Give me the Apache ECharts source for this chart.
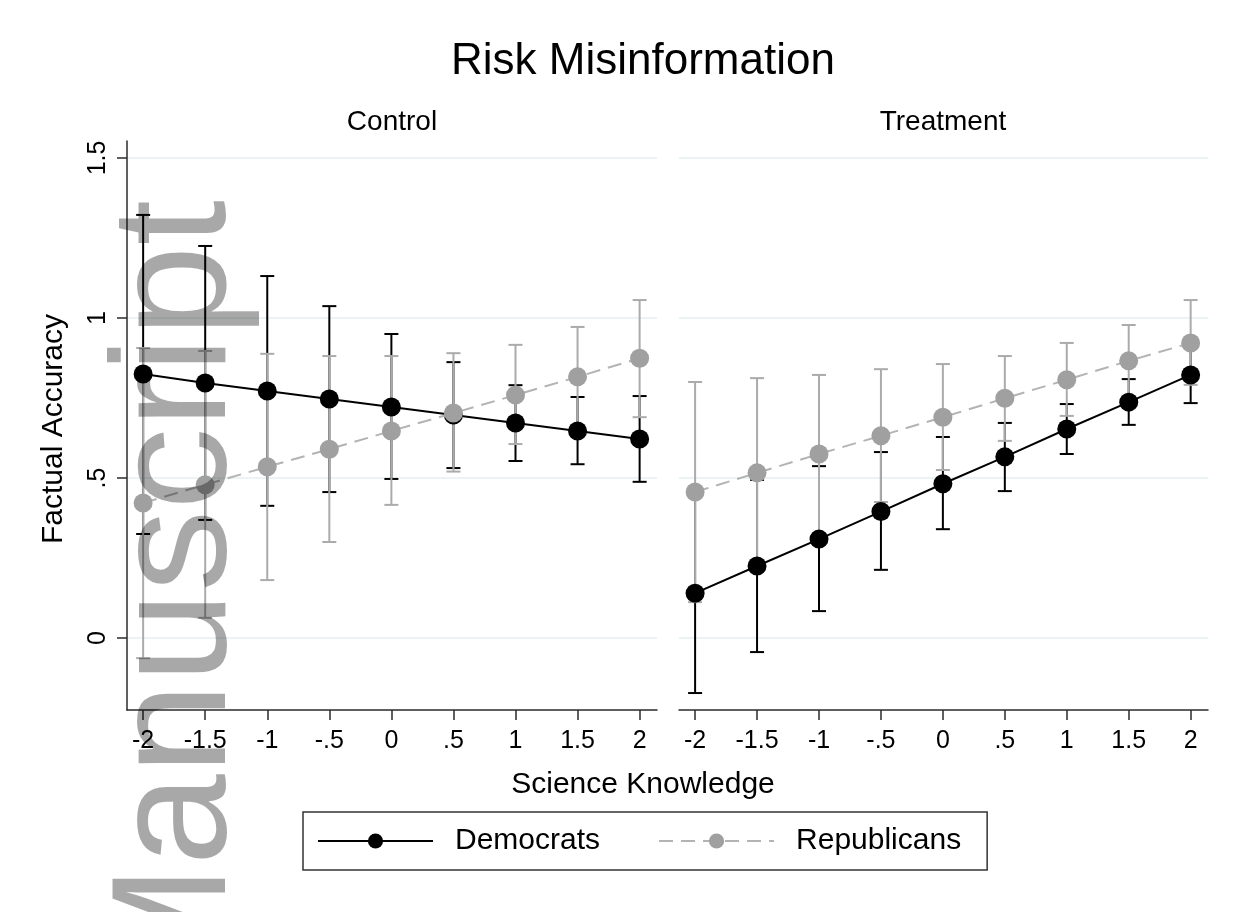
<!DOCTYPE html>
<html>
<head>
<meta charset="utf-8">
<title>Risk Misinformation</title>
<script src="https://cdn.jsdelivr.net/npm/echarts@6/dist/echarts.min.js"></script>
<style>
  html, body { margin: 0; padding: 0; background: #fff; }
  #chart { width: 1247px; height: 912px; }
</style>
</head>
<body>
<div id="chart"></div>
<script>
// Science knowledge levels (x axis) and tick marks
const knowledge = [-2, -1.5, -1, -0.5, 0, 0.5, 1, 1.5, 2];
const xTicks = [-2, -1.5, -1, -0.5, 0, 0.5, 1, 1.5, 2];
const yTicks = [0, 0.5, 1, 1.5];

// Control panel: predicted factual accuracy with 95% CIs
const ctrlDemEst = [0.825, 0.797, 0.772, 0.747, 0.722, 0.697, 0.672, 0.647, 0.622];
const ctrlDemLo  = [0.325, 0.369, 0.413, 0.456, 0.497, 0.531, 0.553, 0.543, 0.488];
const ctrlDemHi  = [1.322, 1.225, 1.131, 1.037, 0.950, 0.862, 0.790, 0.753, 0.756];
const ctrlRepEst = [0.422, 0.479, 0.535, 0.590, 0.647, 0.703, 0.759, 0.816, 0.874];
const ctrlRepLo  = [-0.063, 0.063, 0.181, 0.300, 0.416, 0.520, 0.606, 0.660, 0.690];
const ctrlRepHi  = [0.906, 0.897, 0.888, 0.881, 0.881, 0.890, 0.916, 0.972, 1.056];

// Treatment panel
const trtDemEst = [0.140, 0.225, 0.309, 0.395, 0.482, 0.566, 0.653, 0.737, 0.822];
const trtDemLo  = [-0.172, -0.044, 0.084, 0.213, 0.340, 0.459, 0.575, 0.666, 0.734];
const trtDemHi  = [0.452, 0.494, 0.537, 0.581, 0.628, 0.672, 0.731, 0.809, 0.910];
const trtRepEst = [0.456, 0.516, 0.575, 0.632, 0.690, 0.749, 0.807, 0.866, 0.922];
const trtRepLo  = [0.112, 0.220, 0.328, 0.425, 0.525, 0.616, 0.694, 0.754, 0.791];
const trtRepHi  = [0.800, 0.812, 0.822, 0.840, 0.856, 0.881, 0.922, 0.978, 1.056];

const FONT = "'Liberation Sans', Arial, sans-serif";
const DEM = '#000000';
const REP = '#a0a0a0';
const REP_CI = '#ababab';
const AXIS = '#2b2b2b';
const GRID = '#e6eff1';

// Stata-style labels: ".5", "-.5"
const fmt = v => (v === 0 ? '0' : String(v).replace(/^(-?)0\./, '$1.'));

const pairs = (xs, ys) => xs.map((x, i) => [x, ys[i]]);
const ciRows = (xs, lo, hi) => xs.map((x, i) => [x, lo[i], hi[i]]);

function ciRenderer(color) {
  return function (params, api) {
    const x = api.value(0);
    const lo = api.coord([x, api.value(1)]);
    const hi = api.coord([x, api.value(2)]);
    const half = 7;
    const style = { stroke: color, lineWidth: 2 };
    return {
      type: 'group',
      children: [
        { type: 'line', shape: { x1: lo[0], y1: lo[1], x2: hi[0], y2: hi[1] }, style },
        { type: 'line', shape: { x1: hi[0] - half, y1: hi[1], x2: hi[0] + half, y2: hi[1] }, style },
        { type: 'line', shape: { x1: lo[0] - half, y1: lo[1], x2: lo[0] + half, y2: lo[1] }, style }
      ]
    };
  };
}

function xAxisFor(gridIndex) {
  return {
    type: 'value', gridIndex, min: -2.13, max: 2.14,
    axisLine: { show: true, onZero: false, lineStyle: { color: AXIS, width: 1.5 } },
    axisTick: { show: true, customValues: xTicks, length: 10, lineStyle: { color: AXIS, width: 1.5 } },
    axisLabel: { customValues: xTicks, formatter: fmt, fontSize: 25, color: '#000', fontFamily: FONT, margin: 19 },
    splitLine: { show: false }
  };
}

function yAxisFor(gridIndex, showAxis) {
  return {
    type: 'value', gridIndex, min: -0.225, max: 1.553,
    axisLine: { show: showAxis, onZero: false, lineStyle: { color: AXIS, width: 1.5 } },
    axisTick: { show: showAxis, customValues: yTicks, length: 10, lineStyle: { color: AXIS, width: 1.5 } },
    axisLabel: { show: showAxis, customValues: yTicks, formatter: fmt, rotate: 90, fontSize: 25, color: '#000', fontFamily: FONT, margin: 16 },
    splitLine: { show: true, lineStyle: { color: GRID, width: 1.5 } }
  };
}

function panelSeries(axis, demEst, demLo, demHi, repEst, repLo, repHi) {
  return [
    { type: 'custom', name: 'Democrats CI', xAxisIndex: axis, yAxisIndex: axis, z: 2,
      renderItem: ciRenderer(DEM), data: ciRows(knowledge, demLo, demHi), encode: { x: 0, y: [1, 2] }, silent: true },
    { type: 'custom', name: 'Republicans CI', xAxisIndex: axis, yAxisIndex: axis, z: 3,
      renderItem: ciRenderer(REP_CI), data: ciRows(knowledge, repLo, repHi), encode: { x: 0, y: [1, 2] }, silent: true },
    { type: 'line', name: 'Democrats', xAxisIndex: axis, yAxisIndex: axis, z: 4,
      data: pairs(knowledge, demEst), symbol: 'circle', symbolSize: 19, showSymbol: true,
      itemStyle: { color: DEM }, lineStyle: { color: DEM, width: 2 }, animation: false },
    { type: 'line', name: 'Republicans', xAxisIndex: axis, yAxisIndex: axis, z: 5,
      data: pairs(knowledge, repEst), symbol: 'circle', symbolSize: 19, showSymbol: true,
      itemStyle: { color: REP }, lineStyle: { color: '#b3b3b3', width: 2, type: [14, 8] }, animation: false }
  ];
}

const chart = echarts.init(document.getElementById('chart'), null, { renderer: 'canvas' });

chart.setOption({
  animation: false,
  backgroundColor: '#ffffff',
  grid: [
    { left: 127, right: 590, top: 141, bottom: 202 },
    { left: 679, right: 39, top: 141, bottom: 202 }
  ],
  xAxis: [xAxisFor(0), xAxisFor(1)],
  yAxis: [yAxisFor(0, true), yAxisFor(1, false)],
  legend: {
    data: ['Democrats', 'Republicans'],
    left: 303, top: 812,
    padding: [14, 26, 14, 14],
    itemGap: 58, itemWidth: 115, itemHeight: 19,
    borderColor: '#333', borderWidth: 1.5, borderRadius: 0,
    textStyle: { fontSize: 30, color: '#000', fontFamily: FONT, padding: [0, 0, 0, 17] },
    selectedMode: false
  },
  graphic: [
    { type: 'text', x: 643, y: 62, style: { text: 'Risk Misinformation', align: 'center', verticalAlign: 'middle', font: '44px ' + FONT, fill: '#000' } },
    { type: 'text', x: 392, y: 122, style: { text: 'Control', align: 'center', verticalAlign: 'middle', font: '28px ' + FONT, fill: '#000' } },
    { type: 'text', x: 943, y: 122, style: { text: 'Treatment', align: 'center', verticalAlign: 'middle', font: '28px ' + FONT, fill: '#000' } },
    { type: 'text', x: 643, y: 785, style: { text: 'Science Knowledge', align: 'center', verticalAlign: 'middle', font: '30px ' + FONT, fill: '#000' } },
    { type: 'text', x: 54, y: 429, rotation: Math.PI / 2, style: { text: 'Factual Accuracy', align: 'center', verticalAlign: 'middle', font: '30px ' + FONT, fill: '#000' } },
    // "Author Manuscript" watermark along the left edge
    { type: 'text', x: 180, y: 200, rotation: Math.PI / 2, z: 100, silent: true,
      style: { text: 'Manuscript', align: 'right', verticalAlign: 'middle', font: '164px ' + FONT, fill: 'rgba(0,0,0,0.34)' } }
  ],
  series: [
    ...panelSeries(0, ctrlDemEst, ctrlDemLo, ctrlDemHi, ctrlRepEst, ctrlRepLo, ctrlRepHi),
    ...panelSeries(1, trtDemEst, trtDemLo, trtDemHi, trtRepEst, trtRepLo, trtRepHi)
  ]
});
</script>
</body>
</html>
